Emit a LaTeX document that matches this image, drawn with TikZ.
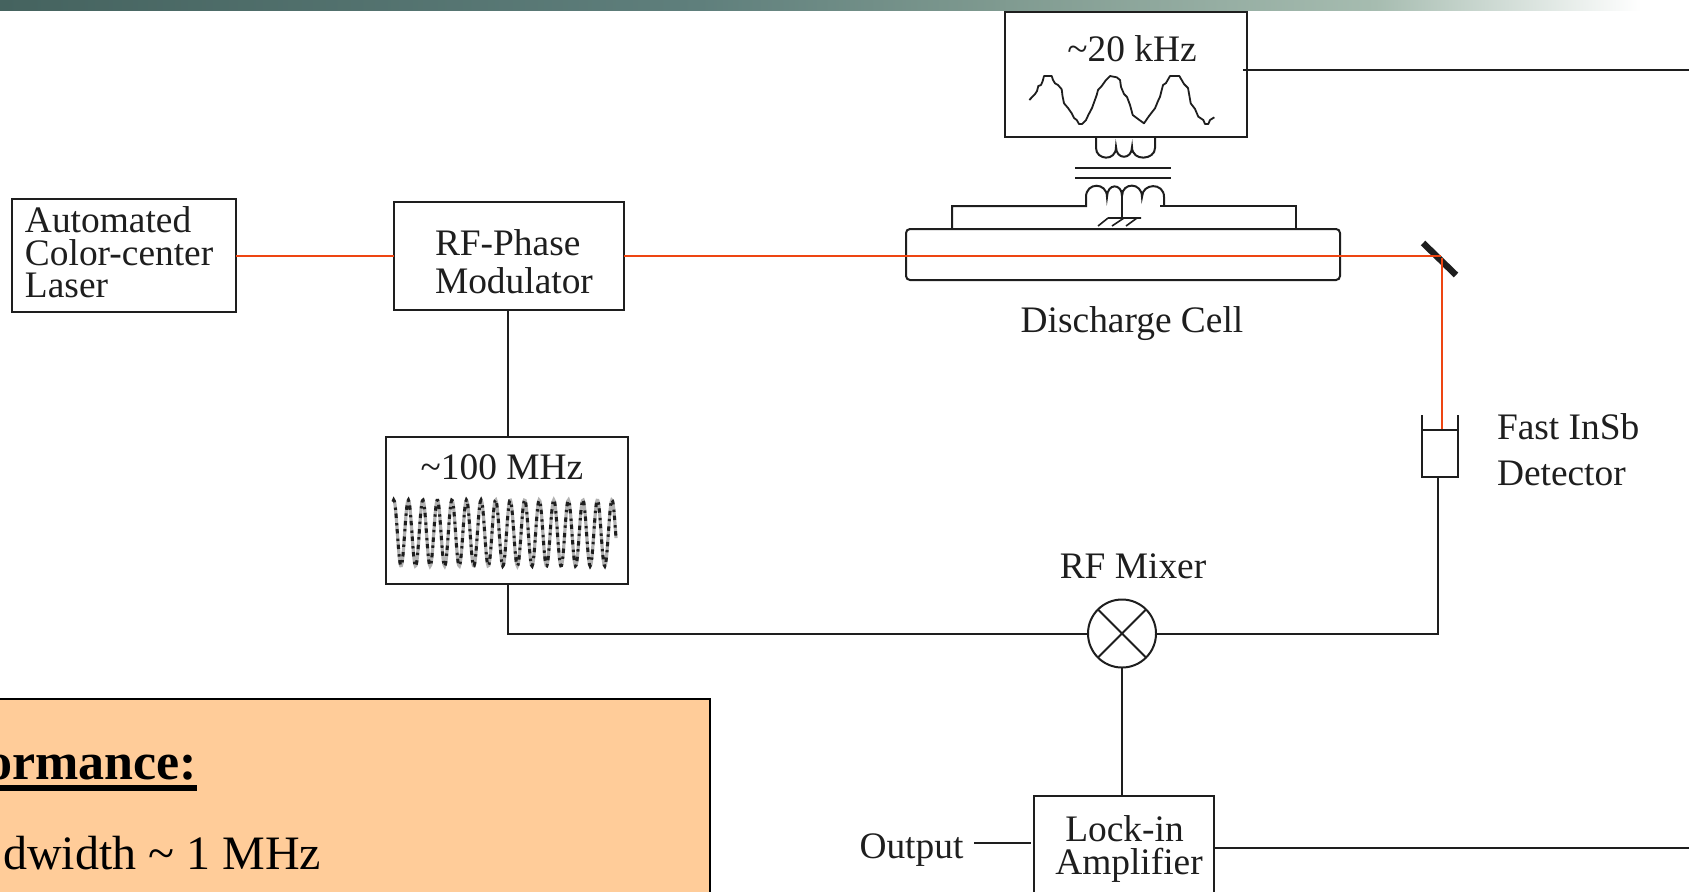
\documentclass[tikz,border=0pt]{standalone}
\usepackage{fontspec}
\setmainfont{Liberation Serif}
\definecolor{ink}{HTML}{1E1E1E}
\definecolor{beam}{HTML}{EE4512}
\definecolor{panel}{HTML}{FFCC99}
\definecolor{barA}{HTML}{45635F}
\definecolor{barB}{HTML}{5F7F7C}
\definecolor{barC}{HTML}{7F9A90}
\definecolor{barD}{HTML}{A6BCB0}
\tikzset{
  wire/.style={draw=ink,line width=1pt},
  laserbeam/.style={draw=beam,line width=1pt},
  unitbox/.style={draw=ink,line width=1pt,fill=white,inner sep=0pt,outer sep=0pt},
  lab/.style={text=ink,font=\fontsize{18.7}{18.7}\selectfont,inner sep=0pt,outer sep=0pt,anchor=base},
  labl/.style={lab,anchor=base west},
  big/.style={text=black,font=\fontsize{24}{24}\selectfont,inner sep=0pt,outer sep=0pt,anchor=base east},
  bigb/.style={text=black,font=\fontsize{26}{26}\selectfont\bfseries,inner sep=0pt,outer sep=0pt,anchor=base east}
}
\begin{document}
\begin{tikzpicture}[x=0.5pt,y=-0.5pt]
\useasboundingbox (0,0) rectangle (1689,891);
\clip (0,0) rectangle (1689,891);
% top band
\shade[left color=barA,right color=barB] (0,0) rectangle (700,10);
\shade[left color=barB,right color=barC] (699.5,0) rectangle (1000,10);
\shade[left color=barC,right color=barD] (999.5,0) rectangle (1376,10);
\shade[left color=barD,right color=white] (1375.5,0) rectangle (1641,10);
% boxes
\node[unitbox,minimum width=112pt,minimum height=56.5pt] (laser) at (124,255.5) {};
\node[unitbox,minimum width=115pt,minimum height=54pt] (rfmod) at (509,256) {};
\node[unitbox,minimum width=121pt,minimum height=73.5pt] (osc100) at (507,510) {};
\node[unitbox,minimum width=121pt,minimum height=62.5pt] (osc20) at (1125.5,74.5) {};
\node[unitbox,rounded corners=2pt,minimum width=217pt,minimum height=25.5pt] (cell) at (1123,254.5) {};
\node[unitbox,minimum width=18pt,minimum height=23.5pt] (det) at (1440,453.5) {};
\node[unitbox,circle,minimum size=34pt] (mix) at (1122,633.5) {};
\node[unitbox,minimum width=90pt,minimum height=53pt] (lockin) at (1124,848.5) {};
% orange panel
\node[draw=black,line width=1pt,fill=panel,inner sep=0pt,outer sep=0pt,minimum width=365pt,minimum height=120pt] (panelbox) at (345,819) {};
% free ends
\coordinate (mirror) at (1441,256);
\coordinate (mirrorA) at (1423,243);
\coordinate (mirrorB) at (1456,275);
\coordinate (detin) at (1442,430);
\coordinate (detout) at (1438,477);
\coordinate (e20) at (1689,70);
\coordinate (s20) at (1243,70);
\coordinate (e848) at (1689,848);
\coordinate (outA) at (974,843);
\coordinate (outB) at (1031,843);
\coordinate (rfdrop) at (508,310);
\coordinate (oscout) at (508,583);
% beam
\draw[laserbeam] (laser.east |- 0,256) -- (rfmod.west |- 0,256);
\draw[ink,line width=3.2pt] (mirrorA) -- (mirrorB);
\draw[laserbeam] (rfmod.east |- 0,256) -- (mirror);
\draw[laserbeam] (1442,258) -- (detin);
% wires
\draw[wire] (rfdrop) -- (rfdrop |- osc100.north);
\draw[wire] (oscout) |- (mix.west);
\draw[wire] (mix.east) -| (detout);
\draw[wire] (mix.south) -- (mix.south |- lockin.north);
\draw[wire] (lockin.east |- e848) -- (e848);
\draw[wire] (outA) -- (outB);
\draw[wire] (s20) -- (e20);
% mixer cross
\draw[wire] (mix.45) -- (mix.225) (mix.135) -- (mix.315);
% detector lid
\draw[wire] (1422,415) -- (1422,430) -- (1458,430) -- (1458,415);
% transformer upper coil
\draw[wire] (1096,137) -- (1096,148) .. controls (1096,160) and (1116,162) .. (1116,147)
  .. controls (1116,160) and (1132,160) .. (1132,147)
  .. controls (1132,162) and (1155,160) .. (1155,148) -- (1155,137);
\draw[wire] (1075,168) -- (1171,168) (1075,178) -- (1171,178);
% transformer lower coil
\draw[wire] (952,229) -- (952,206) -- (1086,206) -- (1086,197)
  .. controls (1086,182) and (1107,182) .. (1107,197)
  .. controls (1107,183) and (1122,183) .. (1122,196)
  .. controls (1122,182) and (1142,182) .. (1142,197)
  .. controls (1142,183) and (1164,182) .. (1164,197) -- (1164,206);
\draw[wire] (1160,206) -- (1296,206) -- (1296,229);
\draw[wire] (1122,190) -- (1122,218);
\draw[ink,line width=0.8pt] (1108,218) -- (1141,218) (1108,218) -- (1098,226) (1124,218) -- (1112,226) (1137,218) -- (1126,226);
% 20 kHz trace
\draw[ink,line width=0.9pt,line join=round] plot coordinates {
 (1029.3,100) (1035,94) (1037,91) (1038.3,86) (1041,85) (1042.7,81) (1044,76) (1051.7,76) (1053,80) (1055,83.3) (1058,85) (1061.7,89.3)
 (1062.5,96) (1064,103.3) (1068,108) (1071.7,113.3) (1074,118) (1076.7,120) (1079,124) (1082,124) (1086,120) (1088.3,115) (1092,108) (1096.7,95) (1098,90) (1101.7,86)
 (1106,80) (1110,76) (1116.7,77.3) (1120,80) (1121,87) (1124,94) (1127,97) (1130,105) (1132.7,115) (1138,119) (1144,123.3) (1149,116) (1155,108.3)
 (1158,101) (1160,96.7) (1163,85) (1166,83) (1170,76) (1179.3,76) (1184,84) (1188,88) (1190.7,103.3) (1195,109) (1198.3,116.7) (1203.3,120)
 (1205,124) (1208.3,124) (1210,120) (1214.3,117.3)};
% 100 MHz trace
\draw[gray!60,line width=1.6pt] plot[domain=393:616,samples=320,smooth] (\x,{533-33*cos(24.742*(\x-408.3))});
\draw[ink,line width=1.5pt,dash pattern=on 2.2pt off 2.6pt on 1.2pt off 1.8pt] plot[domain=393:616,samples=320,smooth] (\x,{533-33*cos(24.742*(\x-408.3))});
% labels
\node[labl] (t1) at (25,232) {Automated};
\node[labl] (t2) at (25,265) {Color-center};
\node[labl] (t3) at (25,297) {Laser};
\node[labl] (t4) at (435,255) {RF-Phase};
\node[labl] (t5) at (435,293) {Modulator};
\node[lab] (t6) at (502,479) {\char"7E 100 MHz};
\node[lab] (t7) at (1132,61) {\char"7E 20 kHz};
\node[lab] (t8) at (1132,332.5) {Discharge Cell};
\node[labl] (t9) at (1497,439.5) {Fast InSb};
\node[labl] (t10) at (1497,485) {Detector};
\node[lab] (t11) at (1133,578.5) {RF Mixer};
\node[labl] (t12) at (859.5,858) {Output};
\node[lab] (t13) at (1124.5,841) {Lock-in};
\node[lab] (t14) at (1129,874) {Amplifier};
\node[bigb] (t15) at (197,779) {ormance:};
\fill[black] (0,785) rectangle (197,791);
\node[big] (t16) at (321,869) {dwidth \char"7E{} 1 MHz};
\end{tikzpicture}
\end{document}
